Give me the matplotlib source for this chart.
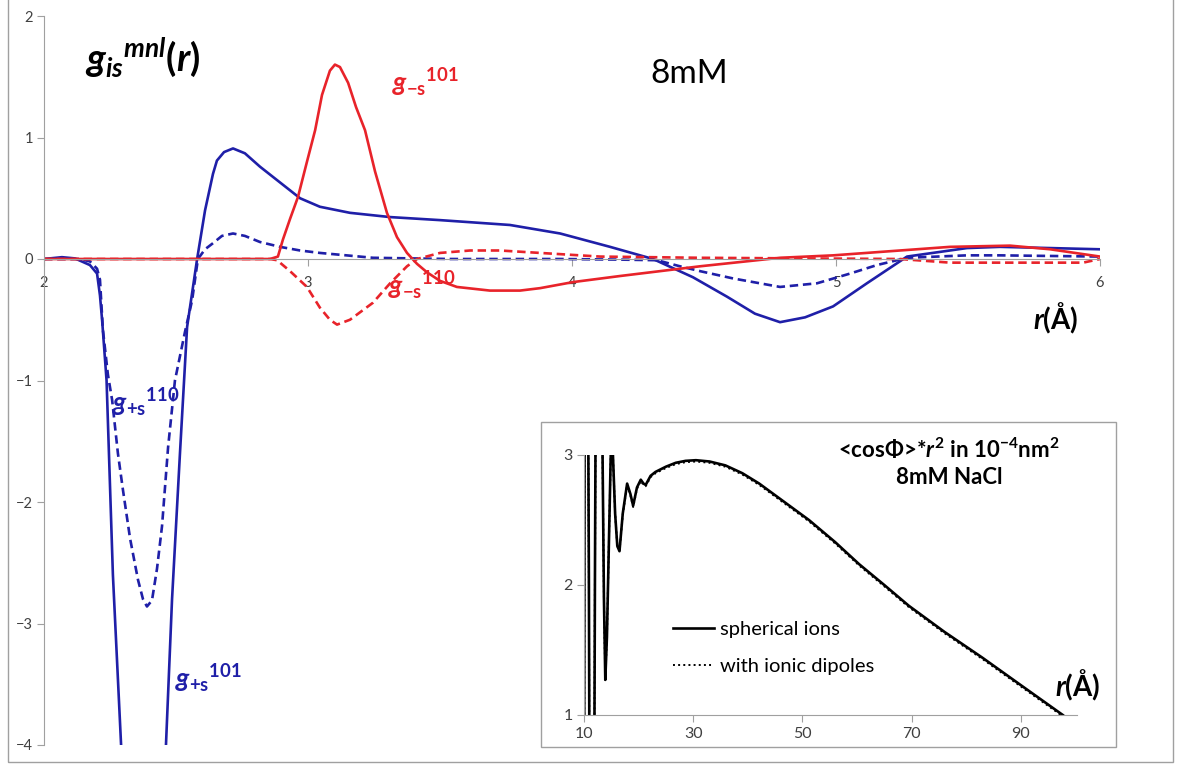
import matplotlib
matplotlib.use('Agg')
import matplotlib.pyplot as plt
from matplotlib.patches import Rectangle

plt.rcParams['font.family'] = ['Lato', 'DejaVu Sans']
plt.rcParams['mathtext.fontset'] = 'custom'
plt.rcParams['mathtext.rm'] = 'Lato:bold'
plt.rcParams['mathtext.bf'] = 'Lato:bold'
plt.rcParams['mathtext.it'] = 'Lato:italic:bold'

# main panel: g_is^mnl(r) against r (Angstrom)
r_p101 = [2.000, 2.068, 2.117, 2.174, 2.201, 2.212, 2.220, 2.237, 2.261, 2.292,
          2.330, 2.377, 2.420, 2.462, 2.485, 2.515, 2.542, 2.580, 2.610, 2.640,
          2.655, 2.682, 2.716, 2.761, 2.818, 2.894, 2.970, 3.045, 3.159, 3.311,
          3.500, 3.765, 3.955, 4.144, 4.307, 4.458, 4.587, 4.693, 4.788, 4.883,
          4.989, 5.117, 5.269, 5.496, 5.621, 5.811, 6.000]
g_p101 = [0.0, 0.015, 0.005, -0.05, -0.12, -0.3, -0.5, -1.0, -2.6, -4.0,
          -5.2, -5.5, -5.2, -4.0, -2.8, -1.6, -0.56, 0.0, 0.4, 0.7,
          0.81, 0.88, 0.91, 0.87, 0.76, 0.63, 0.50, 0.43, 0.38, 0.345,
          0.32, 0.28, 0.21, 0.10, 0.0, -0.15, -0.31, -0.45, -0.52, -0.48,
          -0.39, -0.20, 0.02, 0.09, 0.10, 0.09, 0.08]

r_p110 = [2.000, 2.136, 2.174, 2.201, 2.212, 2.223, 2.242, 2.258, 2.280, 2.299,
          2.326, 2.356, 2.375, 2.390, 2.409, 2.428, 2.447, 2.470, 2.496, 2.534,
          2.561, 2.583, 2.610, 2.640, 2.674, 2.716, 2.761, 2.818, 2.894, 2.970,
          3.045, 3.246, 3.538, 3.955, 4.182, 4.322, 4.409, 4.485, 4.610, 4.788,
          4.928, 5.053, 5.155, 5.269, 5.496, 5.621, 6.000]
g_p110 = [0.0, 0.0, -0.02, -0.08, -0.17, -0.58, -0.95, -1.16, -1.6, -1.9,
          -2.3, -2.64, -2.8, -2.86, -2.81, -2.55, -2.2, -1.55, -1.0, -0.6,
          -0.34, 0.0, 0.08, 0.13, 0.19, 0.21, 0.19, 0.14, 0.10, 0.07,
          0.05, 0.01, 0.0, 0.0, -0.005, -0.01, -0.06, -0.10, -0.16, -0.23,
          -0.20, -0.12, -0.05, 0.01, 0.03, 0.03, 0.02]

r_m101 = [2.000, 2.856, 2.886, 2.905, 2.932, 2.962, 2.996, 3.027, 3.053, 3.083,
          3.102, 3.121, 3.152, 3.182, 3.216, 3.254, 3.299, 3.337, 3.375, 3.413,
          3.451, 3.500, 3.564, 3.689, 3.803, 3.879, 4.004, 4.182, 4.409, 4.485,
          4.788, 4.989, 5.242, 5.432, 5.659, 5.811, 6.000]
g_m101 = [0.0, 0.0, 0.02, 0.16, 0.33, 0.51, 0.80, 1.06, 1.35, 1.55,
          1.60, 1.58, 1.45, 1.25, 1.06, 0.72, 0.38, 0.18, 0.05, -0.04,
          -0.11, -0.18, -0.23, -0.26, -0.26, -0.24, -0.19, -0.14, -0.08, -0.06,
          0.01, 0.03, 0.07, 0.10, 0.11, 0.08, 0.02]

r_m110 = [2.000, 2.856, 2.883, 2.932, 2.996, 3.045, 3.083, 3.110, 3.159, 3.246,
          3.311, 3.375, 3.413, 3.500, 3.614, 3.727, 3.879, 4.106, 4.485, 5.242,
          5.432, 5.621, 5.936, 6.000]
g_m110 = [0.0, 0.0, -0.01, -0.10, -0.23, -0.40, -0.50, -0.54, -0.50, -0.36,
          -0.20, -0.06, 0.0, 0.05, 0.07, 0.07, 0.05, 0.02, 0.01, 0.0,
          -0.03, -0.03, -0.03, 0.0]

# inset: <cos Phi>*r^2 in 1e-4 nm^2 against r (Angstrom)
r_in = [10.0, 10.15, 10.4, 10.65, 10.9, 11.1, 11.45, 11.8, 12.0, 12.3,
        12.7, 13.1, 13.4, 13.65, 13.9, 14.2, 14.6, 14.9, 15.1, 15.3,
        15.7, 16.1, 16.5, 17.1, 17.9, 18.5, 19.0, 19.7, 20.4, 20.9,
        21.3, 22.2, 23.1, 25.0, 26.8, 28.6, 30.5, 33.0, 35.9, 39.0,
        42.1, 46.0, 51.2, 56.0, 60.4, 65.0, 69.5, 76.0, 83.0, 90.0, 97.7]
cos_sph = [-1.0, 5.0, 7.0, 4.5, 2.0, -1.0, -2.5, -0.5, 2.0, 5.0,
           5.0, 3.8, 3.0, 1.9, 1.27, 1.6, 2.4, 3.0, 3.3, 3.0,
           2.55, 2.3, 2.26, 2.55, 2.78, 2.70, 2.61, 2.75, 2.81, 2.78,
           2.77, 2.84, 2.87, 2.91, 2.94, 2.955, 2.96, 2.95, 2.92, 2.86,
           2.78, 2.66, 2.50, 2.33, 2.16, 2.00, 1.84, 1.64, 1.44, 1.23, 1.0]
cos_dip = [-1.0, 5.0, 7.0, 4.5, 2.0, -1.0, -2.5, -0.5, 2.0, 5.0,
           5.0, 3.8, 3.0, 1.9, 1.27, 1.6, 2.4, 3.0, 3.3, 3.0,
           2.55, 2.3, 2.26, 2.54, 2.77, 2.69, 2.60, 2.74, 2.80, 2.77,
           2.76, 2.83, 2.86, 2.90, 2.93, 2.945, 2.95, 2.94, 2.91, 2.85,
           2.77, 2.65, 2.49, 2.32, 2.15, 1.99, 1.83, 1.63, 1.43, 1.22, 0.99]

blue = '#1F1FA8'
red = '#E8232A'
grey = '#A0A0A0'
tick_col = '#404040'

fig = plt.figure(figsize=(11.78, 7.65), dpi=100)

# outer chart border
fig.patches.append(Rectangle((8 / 1178, 3 / 765), 1165 / 1178, 1.2, transform=fig.transFigure,
                             fill=False, edgecolor=grey, lw=1.0, zorder=0))

ax = fig.add_axes([44 / 1178, 1 - 745 / 765, 1056 / 1178, 729 / 765])
ax.patch.set_alpha(0)
dash = (0, (3.2, 1.8))
ax.plot(r_p101, g_p101, color=blue, lw=1.9)
ax.plot(r_p110, g_p110, color=blue, lw=1.9, linestyle=dash)
ax.plot(r_m101, g_m101, color=red, lw=1.9)
ax.plot(r_m110, g_m110, color=red, lw=1.9, linestyle=dash)
ax.set_xlim(2, 6)
ax.set_ylim(-4, 2)
ax.set_xticks([2, 3, 4, 5, 6])
ax.set_yticks([-4, -3, -2, -1, 0, 1, 2])
ax.spines['top'].set_visible(False)
ax.spines['right'].set_visible(False)
ax.spines['bottom'].set_position(('data', 0))
for s in ('left', 'bottom'):
    ax.spines[s].set_color(grey)
ax.tick_params(direction='out', length=5, color=grey, labelcolor=tick_col, labelsize=10.5)
ax.tick_params(axis='x', pad=7)
ax.tick_params(axis='y', pad=3)

ax.text(2.155, 1.55, r'$g_{is}{}^{mnl}(r)$', fontsize=27, color='black')
ax.text(4.295, 1.45, '8mM', fontsize=24, color='black')
ax.text(3.318, 1.37, r'$g_{\mathbf{-s}}{}^{\mathbf{101}}$', fontsize=19, color=red)
ax.text(3.303, -0.30, r'$g_{\mathbf{-s}}{}^{\mathbf{110}}$', fontsize=19, color=red)
ax.text(2.258, -1.26, r'$g_{\mathbf{+s}}{}^{\mathbf{110}}$', fontsize=19, color=blue)
ax.text(2.496, -3.53, r'$g_{\mathbf{+s}}{}^{\mathbf{101}}$', fontsize=19, color=blue)
ax.text(5.746, -0.58, '$r$(Å)', fontsize=20, fontweight='bold', color='black')

# inset box
fig.patches.append(Rectangle((541 / 1178, 1 - 747 / 765), 575 / 1178, 325 / 765,
                             transform=fig.transFigure, facecolor='white',
                             edgecolor=grey, lw=1.0, zorder=1))

axi = fig.add_axes([584 / 1178, 1 - 715 / 765, 493 / 1178, 260 / 765], zorder=2)
axi.patch.set_alpha(0)
axi.plot(r_in, cos_sph, color='black', lw=1.9, label='spherical ions')
axi.plot(r_in, cos_dip, color='black', lw=1.4, linestyle=':', label='with ionic dipoles')
axi.set_xlim(10, 100.3)
axi.set_ylim(1, 3)
axi.set_xticks([10, 30, 50, 70, 90])
axi.set_yticks([1, 2, 3])
axi.spines['top'].set_visible(False)
axi.spines['right'].set_visible(False)
for s in ('left', 'bottom'):
    axi.spines[s].set_color(grey)
axi.tick_params(direction='out', length=5, color=grey, labelcolor=tick_col, labelsize=11.5)
axi.tick_params(axis='x', pad=4)
axi.tick_params(axis='y', pad=3)

axi.text(0.74, 1.023, '<cosΦ>*$r^{2}$ in 10$^{-4}$nm$^{2}$', transform=axi.transAxes,
         fontsize=16, fontweight='bold', ha='center', va='center')
axi.text(0.74, 0.915, '8mM NaCl', transform=axi.transAxes,
         fontsize=16, fontweight='bold', ha='center', va='center')
axi.text(0.955, 0.07, '$r$(Å)', transform=axi.transAxes, fontsize=20,
         fontweight='bold', clip_on=False)
axi.legend(loc='center left', bbox_to_anchor=(0.181, 0.258), frameon=False, fontsize=14.5,
           handlelength=2.0, handletextpad=0.3, labelspacing=1.0, borderpad=0,
           borderaxespad=0)

plt.savefig('out.png', dpi=100)
